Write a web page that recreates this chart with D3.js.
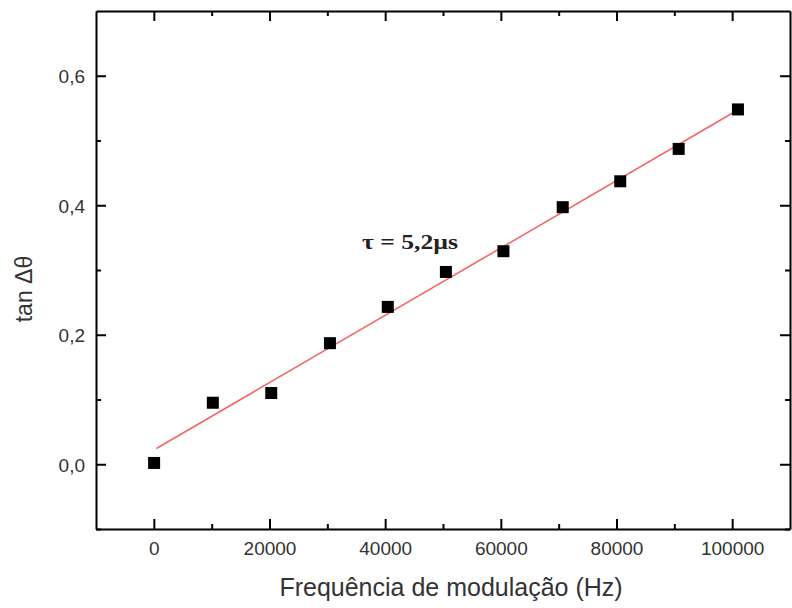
<!DOCTYPE html>
<html>
<head>
<meta charset="utf-8">
<script src="https://cdn.jsdelivr.net/npm/d3@7"></script>
<style>
  html, body { margin: 0; padding: 0; background: #fff; }
  svg { display: block; }
</style>
</head>
<body>
<svg id="chart" width="792" height="608"></svg>
<script>
// Measured phase lag versus modulation frequency
const frequencies = [50, 10200, 20300, 30450, 40450, 50500, 60450, 70700, 80650, 90750, 101000];
const tanValues   = [0.002, 0.095, 0.110, 0.187, 0.243, 0.297, 0.329, 0.397, 0.437, 0.487, 0.548];

// Linear fit: tan Δθ = intercept + slope · f
const fitIntercept = 0.022;
const fitSlope = 5.2e-6;
const fitRange = [450, 100300];

const xTicks = [0, 20000, 40000, 60000, 80000, 100000];
const xMinorTicks = [10000, 30000, 50000, 70000, 90000];
const yTicks = [0.0, 0.2, 0.4, 0.6];
const yMinorTicks = [-0.1, 0.1, 0.3, 0.5];

const xTitle = "Frequência de modulação (Hz)";
const yTitle = "tan Δθ";
const annotation = "τ = 5,2µs";

const svg = d3.select("#chart");
const margin = { left: 96, top: 11, right: 2, bottom: 79 };
const W = 792, H = 608;
const x0 = margin.left, x1 = W - margin.right, y0 = margin.top, y1 = H - margin.bottom;

const x = d3.scaleLinear().domain([-10000, 110000]).range([x0, x1]);
const y = d3.scaleLinear().domain([-0.1, 0.7]).range([y1, y0]);

const fmtY = v => d3.format(".1f")(v).replace(".", ",");
const textColor = "#333";

// Fit line
const fitPts = fitRange.map(f => [f, fitIntercept + fitSlope * f]);
svg.append("path")
  .datum(fitPts)
  .attr("d", d3.line().x(d => x(d[0])).y(d => y(d[1])))
  .attr("fill", "none")
  .attr("stroke", "#f26666")
  .attr("stroke-width", 1.6);

// Data markers
const ms = 12;
svg.append("g").selectAll("rect")
  .data(frequencies.map((f, i) => [f, tanValues[i]]))
  .join("rect")
  .attr("x", d => x(d[0]) - ms / 2)
  .attr("y", d => y(d[1]) - ms / 2)
  .attr("width", ms)
  .attr("height", ms)
  .attr("fill", "#000");

// Axes: bottom/left with labels, top/right mirrored; ticks point inward
function addAxis(axis, transform, major, minor, fmt, showLabels) {
  const g = svg.append("g").attr("transform", transform);
  g.call(axis.tickValues(major).tickSizeInner(-10).tickSizeOuter(0)
    .tickPadding(showLabels ? 22 : 0).tickFormat(showLabels ? fmt : () => ""));
  g.select(".domain").attr("stroke", "#000").attr("stroke-width", 2);
  g.selectAll(".tick line").attr("stroke", "#000").attr("stroke-width", 2);
  g.selectAll(".tick text").attr("fill", textColor)
    .style("font-family", "'Liberation Sans', Arial, sans-serif").style("font-size", "19px");
  const m = svg.append("g").attr("transform", transform);
  m.call(axis.tickValues(minor).tickSizeInner(-5).tickSizeOuter(0).tickFormat(() => ""));
  m.select(".domain").remove();
  m.selectAll(".tick line").attr("stroke", "#000").attr("stroke-width", 2);
  return g;
}

const gx = addAxis(d3.axisBottom(x), `translate(0,${y1})`, xTicks, xMinorTicks, d3.format("d"), true);
gx.selectAll(".tick text").attr("dy", "0.2em");
addAxis(d3.axisTop(x), `translate(0,${y0})`, xTicks, xMinorTicks, d3.format("d"), false);
const gy = addAxis(d3.axisLeft(y), `translate(${x0},0)`, yTicks, yMinorTicks, fmtY, true);
gy.selectAll(".tick text").attr("x", -11).attr("dy", "0.36em");
addAxis(d3.axisRight(y), `translate(${x1},0)`, yTicks, yMinorTicks, fmtY, false);

// Axis titles
svg.append("text")
  .attr("x", 451).attr("y", 596)
  .attr("text-anchor", "middle")
  .attr("fill", textColor)
  .style("font-family", "'Liberation Sans', Arial, sans-serif")
  .style("font-size", "25px")
  .text(xTitle);

svg.append("text")
  .attr("transform", "translate(32,289) rotate(-90)")
  .attr("text-anchor", "middle")
  .attr("fill", textColor)
  .style("font-family", "'Liberation Sans', Arial, sans-serif")
  .style("font-size", "23px")
  .text(yTitle);

// Fit annotation (set in a wide bold serif)
svg.append("text")
  .attr("x", 362).attr("y", 249)
  .attr("fill", "#222")
  .attr("textLength", 96)
  .attr("lengthAdjust", "spacingAndGlyphs")
  .style("font-family", "'Liberation Serif', 'Times New Roman', serif")
  .style("font-weight", "bold")
  .style("font-size", "20px")
  .text(annotation);
</script>
</body>
</html>
